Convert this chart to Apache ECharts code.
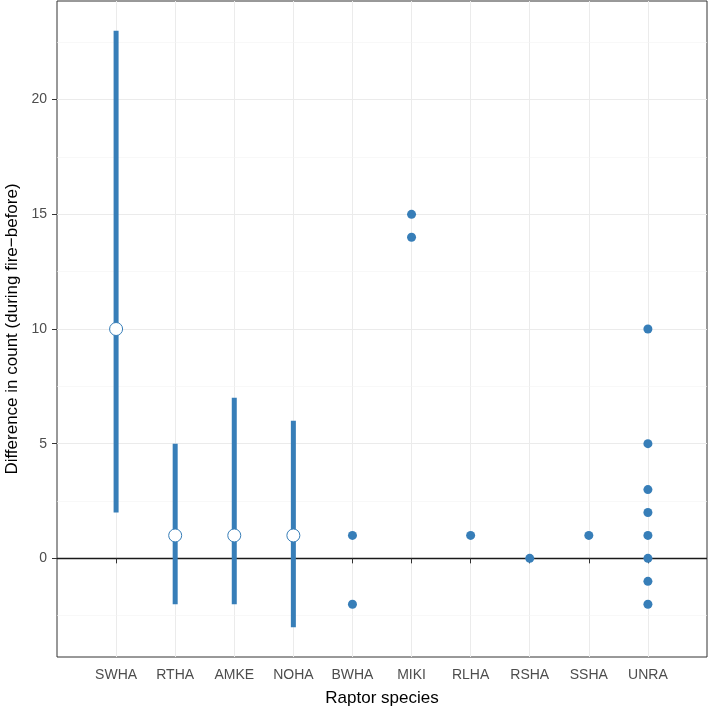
<!DOCTYPE html>
<html>
<head>
<meta charset="utf-8">
<script src="https://cdn.jsdelivr.net/npm/echarts@6/dist/echarts.min.js"></script>
<style>html,body{margin:0;padding:0;background:#fff}#c{width:709px;height:711px}</style>
</head>
<body>
<div id="c"></div>
<script>
// Categories on the x axis
const categories = ['SWHA','RTHA','AMKE','NOHA','BWHA','MIKI','RLHA','RSHA','SSHA','UNRA'];
// Species with a range (error bar) and median (open circle)
const rangeSpecies = ['SWHA','RTHA','AMKE','NOHA'];
const rangeLow  = [2, -2, -2, -3];
const rangeHigh = [23, 5, 7, 6];
const rangeMid  = [10, 1, 1, 1];
// Individual points
const pointSpecies = ['BWHA','BWHA','MIKI','MIKI','RLHA','RSHA','SSHA','UNRA','UNRA','UNRA','UNRA','UNRA','UNRA','UNRA','UNRA'];
const pointValues  = [1, -2, 15, 14, 1, 0, 1, 10, 5, 3, 2, 1, 0, -1, -2];
// Axis ticks
const yTicks = [0, 5, 10, 15, 20];
const yMinorBreaks = [-2.5, 2.5, 7.5, 12.5, 17.5, 22.5];
const yMin = -4.3, yMax = 24.3;

const blue = '#377EB8';
const pos = name => categories.indexOf(name) + 1;
const xTicks = categories.map((c, i) => i + 1);

const chart = echarts.init(document.getElementById('c'), null, {renderer: 'canvas'});
chart.setOption({
  animation: false,
  backgroundColor: '#ffffff',
  grid: {left: 57, right: 2, top: 1, bottom: 54, show: true, borderColor: '#333333', borderWidth: 1,
    containLabel: false, outerBoundsMode: 'none'},
  xAxis: {
    type: 'value', min: 0, max: 11, interval: 1,
    name: 'Raptor species', nameLocation: 'middle', nameGap: 33,
    nameTextStyle: {fontFamily: 'Liberation Sans', fontSize: 17, color: '#000'},
    axisLine: {show: false},
    axisTick: {show: true, length: 5, lineStyle: {color: '#333333', width: 1}, customValues: xTicks},
    axisLabel: {show: true, customValues: xTicks, margin: 11, fontFamily: 'Liberation Sans', fontSize: 14, color: '#4d4d4d',
      formatter: v => categories[Math.round(v) - 1] || ''},
    splitLine: {show: true, lineStyle: {color: '#ebebeb', width: 1}}
  },
  yAxis: {
    type: 'value', min: yMin, max: yMax,
    name: 'Difference in count (during fire\u2212before)', nameLocation: 'middle', nameGap: 36, nameRotate: 90,
    nameTextStyle: {fontFamily: 'Liberation Sans', fontSize: 17, color: '#000'},
    axisLine: {show: false},
    axisTick: {show: true, length: 5, lineStyle: {color: '#333333', width: 1}, customValues: yTicks},
    axisLabel: {show: true, customValues: yTicks, margin: 10, fontFamily: 'Liberation Sans', fontSize: 14, color: '#4d4d4d'},
    splitLine: {show: true, lineStyle: {color: '#ebebeb', width: 1}}
  },
  series: [
    {
      type: 'line', data: [], silent: true, z: 0,
      markLine: {
        silent: true, symbol: 'none', label: {show: false}, animation: false, z: 0,
        data: yMinorBreaks.map(v => ({yAxis: v, lineStyle: {color: '#f4f4f4', width: 0.6, type: 'solid'}}))
          .concat([{yAxis: 0, lineStyle: {color: '#1a1a1a', width: 1.3, type: 'solid'}}])
      }
    },
    {
      type: 'custom', silent: true,
      data: rangeSpecies.map((s, i) => [pos(s), rangeLow[i], rangeHigh[i]]),
      encode: {x: 0, y: [1, 2]},
      renderItem: (params, api) => {
        const a = api.coord([api.value(0), api.value(1)]);
        const b = api.coord([api.value(0), api.value(2)]);
        return {type: 'line', shape: {x1: a[0], y1: a[1], x2: b[0], y2: b[1]},
          style: {stroke: blue, lineWidth: 5, lineCap: 'butt'}};
      },
      z: 5
    },
    {
      type: 'scatter', symbol: 'circle', symbolSize: 9,
      data: pointSpecies.map((s, i) => [pos(s), pointValues[i]]),
      itemStyle: {color: blue, opacity: 1}, z: 6
    },
    {
      type: 'scatter', symbol: 'circle', symbolSize: 13,
      data: rangeSpecies.map((s, i) => [pos(s), rangeMid[i]]),
      itemStyle: {color: '#ffffff', borderColor: blue, borderWidth: 1, opacity: 1}, z: 7
    }
  ]
});
</script>
</body>
</html>
